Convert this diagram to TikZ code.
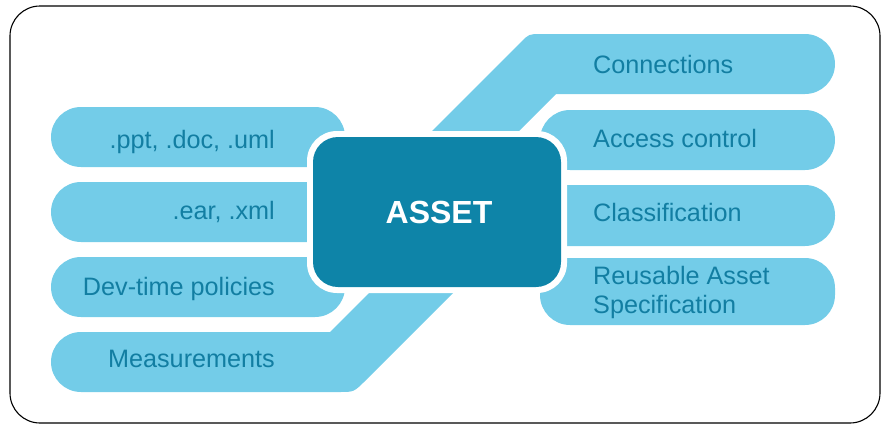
\documentclass[tikz,border=0pt]{standalone}
\usepackage{fontspec}
\setmainfont{Liberation Sans}
\definecolor{lightband}{RGB}{115,204,232}
\definecolor{assetblue}{RGB}{14,132,168}
\definecolor{labeltext}{RGB}{18,126,162}
\begin{document}
\begin{tikzpicture}[x=1pt,y=-1pt,
  band/.style={fill=lightband},
  lbl/.style={text=labeltext, font=\fontsize{25.2}{29.5}\selectfont, inner sep=0pt},
  assetbox/.style={fill=assetblue, rounded corners=25pt, minimum width=248pt, minimum height=150pt,
    text=white, font=\bfseries\fontsize{32}{38}\selectfont, inner sep=0pt}]
\useasboundingbox (0,0) rectangle (887,426);
% outer frame
\draw[line width=1.1pt, rounded corners=30pt] (10,6) rectangle (880,423);
% left bands
\fill[band, rounded corners=30pt] (51,107) rectangle (345,167);
\fill[band, rounded corners=30pt] (51,182) rectangle (400,242);
\fill[band, rounded corners=30pt] (51,257) rectangle (345,317);
\fill[band] (81,332) -- (330,332) -- (382,280) -- (466,280) -- (366,380)
  .. controls (354,392) .. (340,392) -- (81,392)
  arc[start angle=90, end angle=270, radius=30] -- cycle;
% right bands
\fill[band] (413,150) -- (521,42) .. controls (529,34) .. (541,34) -- (805,34)
  arc[start angle=270, end angle=450, radius=30] -- (556,94) -- (500,150) -- cycle;
\fill[band, rounded corners=30pt] (540,110) rectangle (835,170);
\fill[band, rounded corners=30pt] (500,185) rectangle (835,246);
\fill[band, rounded corners=30pt] (540,258) rectangle (835,325);
% central box
\fill[white, rounded corners=30pt] (307,131) rectangle (567,293);
\node[assetbox] (asset) at (437,212) {};
\node[text=white, font=\bfseries\fontsize{32}{38}\selectfont, inner sep=0pt, anchor=base] (assetlabel) at (439,223) {ASSET};
% labels
\node[lbl, anchor=base east] (ppt) at (275,148) {.ppt, .doc, .uml};
\node[lbl, anchor=base east] (ear) at (275,219) {.ear, .xml};
\node[lbl, anchor=base east] (devtime) at (275,295) {Dev-time policies};
\node[lbl, anchor=base east] (measure) at (275,367) {Measurements};
\node[lbl, anchor=base west] (conn) at (593,73) {Connections};
\node[lbl, anchor=base west] (access) at (593,147) {Access control};
\node[lbl, anchor=base west] (classif) at (593,221) {Classification};
\node[lbl, anchor=west, align=left] (ras) at (593,292.5) {Reusable Asset\\Specification};
\end{tikzpicture}
\end{document}
